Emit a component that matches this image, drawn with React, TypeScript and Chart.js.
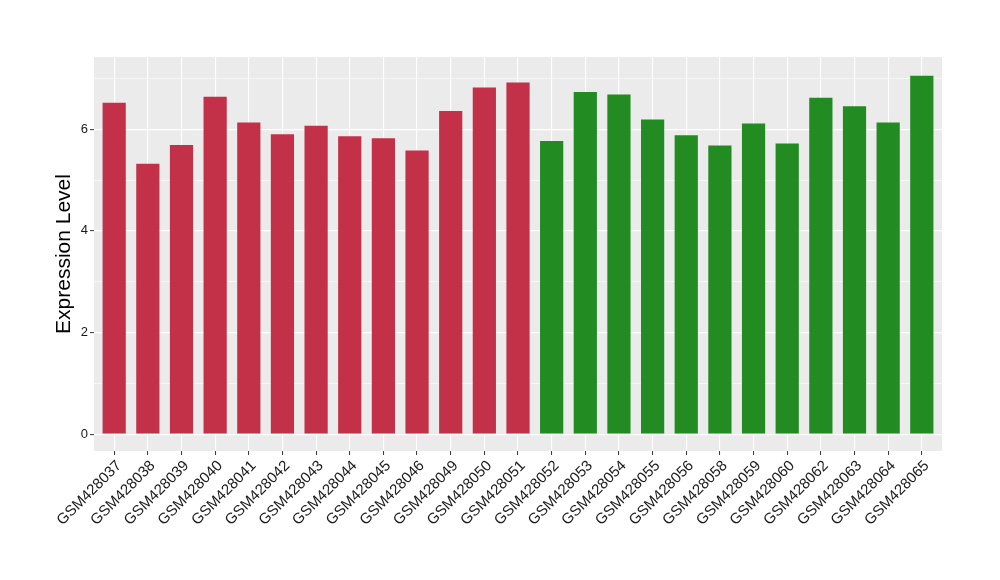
import React, { useEffect, useRef } from "react";
import { Chart, registerables } from "chart.js";

Chart.register(...registerables);

const samples = [
  "GSM428037", "GSM428038", "GSM428039", "GSM428040", "GSM428041", "GSM428042",
  "GSM428043", "GSM428044", "GSM428045", "GSM428046", "GSM428049", "GSM428050",
  "GSM428051", "GSM428052", "GSM428053", "GSM428054", "GSM428055", "GSM428056",
  "GSM428058", "GSM428059", "GSM428060", "GSM428062", "GSM428063", "GSM428064",
  "GSM428065",
];

const expression = [
  6.52, 5.32, 5.69, 6.64, 6.13, 5.9, 6.07, 5.86, 5.82, 5.58, 6.36, 6.82, 6.92,
  5.77, 6.73, 6.68, 6.19, 5.88, 5.68, 6.11, 5.72, 6.62, 6.45, 6.13, 7.05,
];

const groupOf = [
  0, 0, 0, 0, 0, 0, 0, 0, 0, 0, 0, 0, 0,
  1, 1, 1, 1, 1, 1, 1, 1, 1, 1, 1, 1,
];

const groupColors = ["#C33149", "#228B22"];

const yGridValues = [0, 1, 2, 3, 4, 5, 6, 7];
const yLabelValues = [0, 2, 4, 6];

const FONT = "'Liberation Sans', Arial, Helvetica, sans-serif";

const panelBg = {
  id: "panelBg",
  beforeDraw(chart: any) {
    const { ctx, chartArea } = chart;
    ctx.save();
    ctx.fillStyle = "#ffffff";
    ctx.fillRect(0, 0, chart.width, chart.height);
    ctx.fillStyle = "#EBEBEB";
    ctx.fillRect(
      chartArea.left,
      chartArea.top,
      chartArea.right - chartArea.left,
      chartArea.bottom - chartArea.top
    );
    ctx.restore();
  },
};

export default function App() {
  const ref = useRef<HTMLCanvasElement | null>(null);

  useEffect(() => {
    if (!ref.current) return;
    const isMajor = (v: number) => yLabelValues.includes(v);
    const positions = samples.map((_, i) => i + 1);
    const chart = new Chart(ref.current, {
      type: "bar",
      data: {
        datasets: [
          {
            data: positions.map((p, i) => ({ x: p, y: expression[i] })),
            backgroundColor: groupOf.map((g) => groupColors[g]),
            borderWidth: 0,
            barPercentage: 0.69,
            categoryPercentage: 1,
          },
        ],
      },
      options: {
        responsive: false,
        animation: false,
        events: [],
        layout: { padding: { left: 0, right: 58, top: 57, bottom: 0 } },
        plugins: {
          legend: { display: false },
          tooltip: { enabled: false },
        },
        scales: {
          x: {
            type: "linear",
            min: 0.4,
            max: samples.length + 0.6,
            offset: false,
            afterBuildTicks: (s: any) => {
              s.ticks = positions.map((v) => ({ value: v }));
            },
            grid: {
              offset: false,
              color: "#FFFFFF",
              lineWidth: 1.1,
              tickLength: 4,
              tickColor: "#333333",
              tickWidth: 1,
            },
            border: { display: false },
            ticks: {
              autoSkip: false,
              maxRotation: 45,
              minRotation: 45,
              color: "#1a1a1a",
              padding: 2,
              labelOffset: 5,
              font: { family: FONT, size: 15 },
              callback: (v: any) => samples[Number(v) - 1] ?? "",
            },
            afterFit: (s: any) => {
              s.height = 129;
              s.paddingLeft = 0;
              s.paddingRight = 0;
            },
          },
          y: {
            min: -0.33,
            max: 7.42,
            afterBuildTicks: (s: any) => {
              s.ticks = yGridValues.map((v) => ({ value: v }));
            },
            grid: {
              color: "#FFFFFF",
              lineWidth: (c: any) => (c.tick && isMajor(c.tick.value) ? 1.2 : 0.6),
              tickLength: 4,
              tickColor: (c: any) =>
                c.tick && isMajor(c.tick.value) ? "#333333" : "rgba(0,0,0,0)",
              tickWidth: 1,
            },
            border: { display: false },
            ticks: {
              color: "#1a1a1a",
              padding: 2,
              font: { family: FONT, size: 13 },
              callback: (v: any) => (isMajor(Number(v)) ? String(v) : ""),
            },
            title: {
              display: true,
              text: "Expression Level",
              color: "#000000",
              font: { family: FONT, size: 21 },
              padding: { top: 52, bottom: 0 },
            },
            afterFit: (s: any) => {
              s.width = 94;
            },
          },
        },
      },
      plugins: [panelBg],
    });
    return () => chart.destroy();
  }, []);

  return (
    <div style={{ position: "absolute", left: 0, top: 0, width: 1000, height: 580 }}>
      <canvas ref={ref} width={1000} height={580} style={{ width: 1000, height: 580 }} />
    </div>
  );
}
